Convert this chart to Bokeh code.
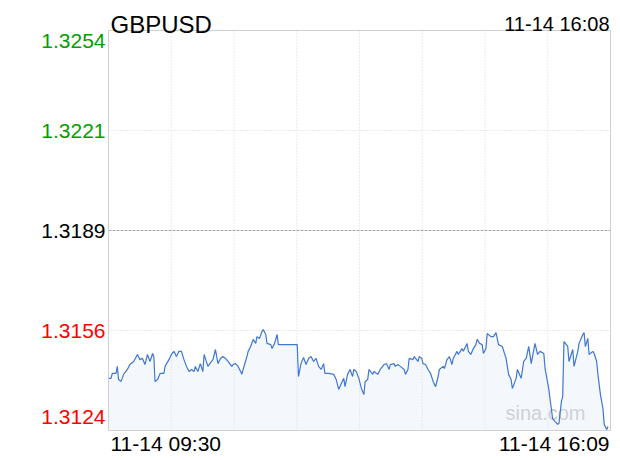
from bokeh.plotting import figure
from bokeh.models import Range1d, Label
from bokeh.embed import file_html
from bokeh.resources import INLINE

symbol = "GBPUSD"
updated = "11-14 16:08"
prev_close = 1.31888
y_ticks = [1.3254, 1.32214, 1.31888, 1.31562, 1.31236]
y_tick_labels = ["1.3254", "1.3221", "1.3189", "1.3156", "1.3124"]
y_tick_colors = ["#00a000", "#00a000", "#000000", "#ff0000", "#ff0000"]
x_labels = ["11-14 09:30", "11-14 16:09"]
session_minutes = 399

minutes = [
    0, 2, 3, 6, 7, 8, 10, 12, 15, 17,
    20, 23, 25, 27, 29, 31, 33, 35, 36, 37,
    39, 41, 44, 45, 48, 50, 52, 54, 56, 58,
    60, 62, 64, 66, 68, 69, 71, 73, 75, 76,
    79, 80, 83, 85, 87, 89, 91, 93, 95, 98,
    99, 101, 103, 105, 106, 107, 110, 111, 113, 115,
    117, 118, 120, 122, 123, 125, 126, 129, 130, 132,
    134, 135, 150, 151, 153, 155, 157, 159, 161, 163,
    165, 167, 169, 171, 172, 175, 179, 181, 183, 185,
    187, 188, 190, 192, 194, 195, 197, 199, 201, 203,
    204, 206, 207, 210, 211, 214, 216, 219, 221, 223,
    224, 227, 228, 230, 232, 235, 236, 238, 239, 242,
    243, 246, 247, 249, 250, 252, 254, 256, 258, 260,
    262, 263, 266, 267, 269, 271, 273, 274, 277, 278,
    281, 282, 285, 286, 288, 290, 292, 293, 295, 297,
    298, 300, 301, 304, 306, 308, 310, 313, 316, 318,
    320, 321, 324, 325, 328, 330, 332, 334, 336, 339,
    341, 343, 346, 347, 350, 351, 353, 355, 357, 358,
    360, 361, 362, 365, 366, 369, 370, 373, 374, 377,
    378, 379, 381, 382, 385, 386, 388, 389, 391, 393,
    394, 396, 397,
]

prices = [
    1.31406, 1.31406, 1.31422, 1.31422, 1.31445, 1.31402, 1.31396, 1.31419, 1.31435, 1.31451,
    1.31461, 1.31484, 1.31467, 1.31471, 1.31451, 1.31484, 1.31461, 1.31487, 1.31477, 1.31396,
    1.31402, 1.31422, 1.31422, 1.31445, 1.31467, 1.31484, 1.31494, 1.31477, 1.31494, 1.31494,
    1.31467, 1.31445, 1.31428, 1.31435, 1.31428, 1.31445, 1.31428, 1.31454, 1.31428, 1.31484,
    1.31445, 1.31451, 1.31467, 1.31500, 1.31454, 1.31471, 1.31477, 1.31471, 1.31461, 1.31445,
    1.31451, 1.31454, 1.31445, 1.31428, 1.31419, 1.31435, 1.31477, 1.31494, 1.31510, 1.31533,
    1.31520, 1.31542, 1.31536, 1.31559, 1.31565, 1.31549, 1.31520, 1.31516, 1.31503, 1.31520,
    1.31549, 1.31516, 1.31516, 1.31412, 1.31454, 1.31474, 1.31451, 1.31471, 1.31477, 1.31461,
    1.31471, 1.31445, 1.31435, 1.31454, 1.31422, 1.31422, 1.31419, 1.31402, 1.31370, 1.31389,
    1.31406, 1.31379, 1.31419, 1.31435, 1.31412, 1.31435, 1.31428, 1.31406, 1.31373, 1.31353,
    1.31396, 1.31402, 1.31435, 1.31419, 1.31428, 1.31419, 1.31435, 1.31451, 1.31454, 1.31435,
    1.31451, 1.31454, 1.31445, 1.31451, 1.31445, 1.31435, 1.31419, 1.31435, 1.31471, 1.31467,
    1.31477, 1.31461, 1.31477, 1.31471, 1.31454, 1.31451, 1.31435, 1.31422, 1.31396, 1.31379,
    1.31412, 1.31435, 1.31445, 1.31438, 1.31467, 1.31477, 1.31451, 1.31471, 1.31494, 1.31484,
    1.31503, 1.31494, 1.31520, 1.31494, 1.31484, 1.31503, 1.31516, 1.31533, 1.31520, 1.31516,
    1.31487, 1.31503, 1.31552, 1.31542, 1.31542, 1.31555, 1.31516, 1.31510, 1.31471, 1.31419,
    1.31402, 1.31373, 1.31406, 1.31435, 1.31406, 1.31461, 1.31471, 1.31510, 1.31454, 1.31520,
    1.31484, 1.31494, 1.31487, 1.31438, 1.31370, 1.31337, 1.31275, 1.31265, 1.31256, 1.31259,
    1.31331, 1.31347, 1.31526, 1.31510, 1.31461, 1.31500, 1.31445, 1.31494, 1.31520, 1.31549,
    1.31555, 1.31510, 1.31536, 1.31484, 1.31494, 1.31487, 1.31461, 1.31419, 1.31353, 1.31308,
    1.31256, 1.31239, 1.31249,
]

FONT = "Liberation Sans"

# layout (pixels): the canvas is the whole frame, the chart box sits inside it
W, H = 620, 460
BOX_L, BOX_R, BOX_T, BOX_B = 108, 610, 30, 430
x_per_px = session_minutes / (BOX_R - BOX_L)
y_top, y_bot = y_ticks[0], y_ticks[-1]
y_per_px = (y_top - y_bot) / (BOX_B - BOX_T)

p = figure(width=W, height=H, output_backend="svg", toolbar_location=None,
           x_axis_location=None, y_axis_location=None,
           x_range=Range1d(-BOX_L * x_per_px, session_minutes + (W - BOX_R) * x_per_px),
           y_range=Range1d(y_bot - (H - BOX_B) * y_per_px, y_top + BOX_T * y_per_px),
           min_border=0)
p.grid.visible = False
p.outline_line_color = None
p.background_fill_color = "white"
p.border_fill_color = "white"

# watermark (beneath the series)
p.add_layout(Label(x=session_minutes, y=y_bot, text="sina.com", text_font=FONT,
                   text_font_size="20px", text_color="#c8c8c8", text_align="right",
                   text_baseline="middle", x_offset=-25, y_offset=18, level="underlay"))

# grid
vx = [session_minutes * i / 8 for i in range(1, 8)]
p.segment(x0=vx, y0=[y_bot] * 7, x1=vx, y1=[y_top] * 7,
          line_color="#d6d6d6", line_dash="1 2", line_width=1)
hy = [y_ticks[1], y_ticks[3]]
p.segment(x0=[0, 0], y0=hy, x1=[session_minutes] * 2, y1=hy,
          line_color="#d6d6d6", line_dash="1 2", line_width=1)
p.segment(x0=[0], y0=[prev_close], x1=[session_minutes], y1=[prev_close],
          line_color="#a8a8a8", line_dash="3 1", line_width=1)

# series
p.varea(x=minutes, y1=prices, y2=y_bot, fill_color="#dce8fa", fill_alpha=0.3)
p.line(minutes, prices, line_color="#3f77d2", line_width=1.2)

# chart box
p.quad(left=[0], right=[session_minutes], bottom=[y_bot], top=[y_top],
       fill_color=None, line_color="#d0d0d0", line_width=1)

# y tick labels
y_offsets = [-10, 0, 0, 0, 14]
for val, txt, col, off in zip(y_ticks, y_tick_labels, y_tick_colors, y_offsets):
    p.add_layout(Label(x=0, y=val, text=txt, text_font=FONT, text_font_size="21px",
                       text_color=col, text_align="right", text_baseline="middle",
                       x_offset=-3, y_offset=off))

# x labels
p.add_layout(Label(x=0, y=y_bot, text=x_labels[0], text_font=FONT, text_font_size="21px",
                   text_color="#000000", text_align="left", text_baseline="middle",
                   x_offset=2, y_offset=-13))
p.add_layout(Label(x=session_minutes, y=y_bot, text=x_labels[1], text_font=FONT,
                   text_font_size="21px", text_color="#000000", text_align="right",
                   text_baseline="middle", x_offset=-1, y_offset=-13))

# header
p.add_layout(Label(x=0, y=y_top, text=symbol, text_font=FONT, text_font_size="24px",
                   text_color="#000000", text_align="left", text_baseline="alphabetic",
                   x_offset=2, y_offset=6))
p.add_layout(Label(x=session_minutes, y=y_top, text=updated, text_font=FONT,
                   text_font_size="20px", text_color="#000000", text_align="right",
                   text_baseline="alphabetic", x_offset=-1, y_offset=7))

open("out.html", "w").write(file_html(p, INLINE))
